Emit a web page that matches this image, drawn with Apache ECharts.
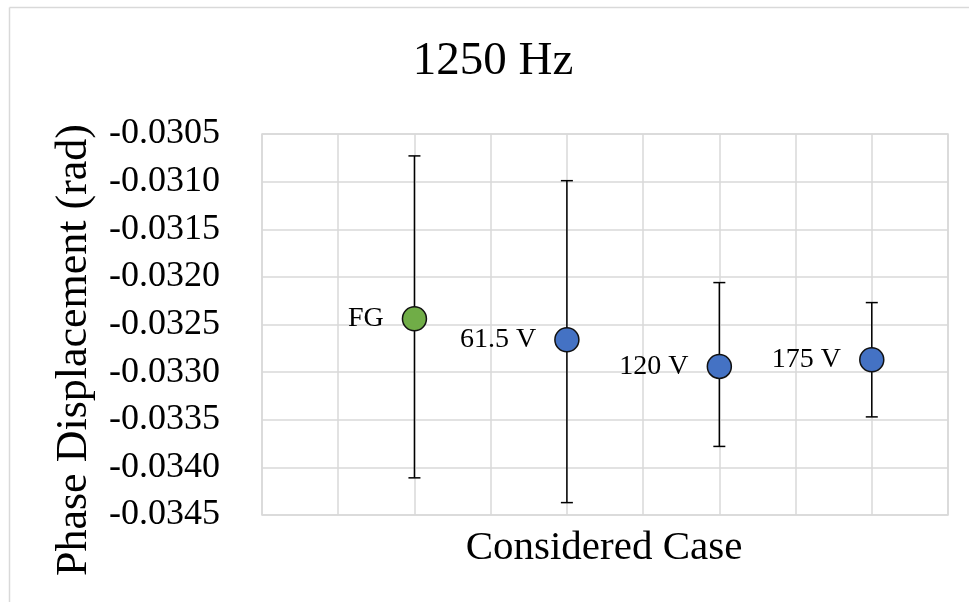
<!DOCTYPE html>
<html>
<head>
<meta charset="utf-8">
<script src="https://cdn.jsdelivr.net/npm/echarts@6/dist/echarts.min.js"></script>
<style>html,body{margin:0;padding:0;background:#fff}#c{width:969px;height:602px}</style>
</head>
<body>
<div id="c"></div>
<script>
const categories = ['FG', '61.5 V', '120 V', '175 V'];
const xPositions = [2, 4, 6, 8];
const values = [-0.03244, -0.03266, -0.03294, -0.03287];
const errLow = [-0.03411, -0.03437, -0.03378, -0.03347];
const errHigh = [-0.03073, -0.03099, -0.03206, -0.03227];
const pointColors = ['#70ad47', '#4472c4', '#4472c4', '#4472c4'];
const yTicks = { min: -0.0345, max: -0.0305, interval: 0.0005 };

const FONT = '"Liberation Serif", "DejaVu Serif", serif';
const chart = echarts.init(document.getElementById('c'));

const pts = categories.map((c, i) => ({
  value: [xPositions[i], values[i]],
  name: c,
  itemStyle: { color: pointColors[i] }
}));
const errs = categories.map((c, i) => [xPositions[i], errLow[i], errHigh[i]]);

chart.setOption({
  animation: false,
  backgroundColor: '#fff',
  graphic: [
    { type: 'line', shape: { x1: 9.5, y1: 7.5, x2: 969, y2: 7.5 }, style: { stroke: '#d9d9d9', lineWidth: 1.5 } },
    { type: 'line', shape: { x1: 9.5, y1: 7.5, x2: 9.5, y2: 602 }, style: { stroke: '#d9d9d9', lineWidth: 1.5 } },
    { type: 'text', style: { text: '1250 Hz', x: 493, y: 62, fill: '#000', font: '47px ' + FONT, textAlign: 'center', textVerticalAlign: 'middle' } },
    { type: 'text', style: { text: 'Considered Case', x: 604, y: 548, fill: '#000', font: '41px ' + FONT, textAlign: 'center', textVerticalAlign: 'middle' } },
    { type: 'text', x: 74, y: 350, rotation: Math.PI / 2, style: { text: 'Phase Displacement (rad)', x: 0, y: 0, fill: '#000', font: '44px ' + FONT, textAlign: 'center', textVerticalAlign: 'middle' } }
  ],
  grid: { left: 262, right: 21, top: 134, bottom: 87, show: true, borderColor: '#d9d9d9', borderWidth: 1.5 },
  xAxis: {
    type: 'value', min: 0, max: 9, interval: 1,
    axisLine: { show: false }, axisTick: { show: false }, axisLabel: { show: false },
    splitLine: { show: true, lineStyle: { color: '#d9d9d9', width: 1.5 } }
  },
  yAxis: {
    type: 'value', min: yTicks.min, max: yTicks.max, interval: yTicks.interval,
    axisLine: { show: false }, axisTick: { show: false },
    axisLabel: { margin: 42, color: '#000', fontFamily: FONT, fontSize: 36, formatter: v => v.toFixed(4) },
    splitLine: { show: true, lineStyle: { color: '#d9d9d9', width: 1.5 } }
  },
  series: [
    {
      type: 'custom',
      data: errs,
      z: 2,
      renderItem: function (params, api) {
        const x = api.value(0);
        const lo = api.coord([x, api.value(1)]);
        const hi = api.coord([x, api.value(2)]);
        const cap = 6;
        const st = { stroke: '#000', lineWidth: 1.5 };
        return {
          type: 'group',
          children: [
            { type: 'line', shape: { x1: lo[0], y1: lo[1], x2: hi[0], y2: hi[1] }, style: st },
            { type: 'line', shape: { x1: lo[0] - cap, y1: lo[1], x2: lo[0] + cap, y2: lo[1] }, style: st },
            { type: 'line', shape: { x1: hi[0] - cap, y1: hi[1], x2: hi[0] + cap, y2: hi[1] }, style: st }
          ]
        };
      }
    },
    {
      type: 'scatter',
      data: pts,
      z: 3,
      symbolSize: 24,
      itemStyle: { borderColor: '#111', borderWidth: 1.5, opacity: 1 },
      label: {
        show: true, position: 'left', distance: 18,
        formatter: p => p.name,
        color: '#000', fontFamily: FONT, fontSize: 28
      }
    }
  ]
});
</script>
</body>
</html>
